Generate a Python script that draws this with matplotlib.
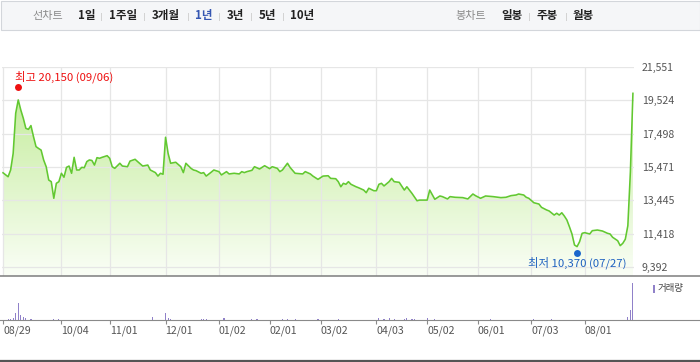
import numpy as np
import matplotlib
matplotlib.use('Agg')
import matplotlib.pyplot as plt
from matplotlib.patches import Rectangle, PathPatch
from matplotlib.lines import Line2D
from matplotlib.colors import LinearSegmentedColormap
import matplotlib.transforms as mtransforms

plt.rcParams['font.family'] = ['Noto Sans CJK KR', 'DejaVu Sans']

# ---------------- data ----------------
# trading-day number (0 = 2022-08-29) and closing price
day_idx = [0, 2, 3, 4, 5, 6, 7, 8, 9, 10, 11, 12, 13, 14, 15, 16, 17, 18, 19, 20,
           21, 22, 23, 24, 25, 26, 27, 28, 29, 30, 31, 32, 33, 34, 35, 36, 37, 38, 39, 41,
           42, 43, 44, 46, 47, 49, 50, 52, 53, 55, 57, 58, 60, 61, 62, 63, 64, 65, 66, 68,
           70, 71, 72, 74, 75, 76, 78, 79, 80, 82, 83, 85, 86, 88, 89, 91, 93, 94, 95, 96,
           98, 99, 101, 103, 105, 106, 108, 109, 110, 112, 113, 115, 118, 119, 121, 122, 124, 126, 128, 129,
           131, 132, 133, 134, 135, 136, 137, 139, 140, 142, 143, 144, 146, 147, 148, 149, 150, 152, 153, 154,
           156, 158, 159, 161, 163, 164, 167, 168, 170, 172, 173, 175, 176, 178, 181, 183, 185, 186, 188, 190,
           193, 196, 198, 200, 202, 203, 205, 206, 207, 209, 211, 212, 214, 215, 217, 218, 219, 220, 221, 222,
           223, 224, 225, 226, 227, 228, 229, 231, 232, 234, 236, 238, 239, 240, 242, 243, 244, 245, 246, 247,
           248]
close = [15120, 14880, 15290, 16300, 18740, 19550, 18940, 18430, 17820, 17760, 17990, 17320, 16710, 16600, 16500, 15900, 15490, 14680, 14580, 13570,
         14480, 14580, 15090, 14850, 15450, 15530, 15090, 16060, 15290, 15290, 15450, 15430, 15800, 15900, 15870, 15590, 16040, 16000, 16060, 16160,
         16000, 15490, 15390, 15700, 15530, 15490, 15830, 15940, 15800, 15530, 15590, 15290, 15130, 14920, 15090, 15030, 17280, 16300, 15700, 15760,
         15490, 15130, 15700, 15390, 15290, 15250, 15090, 15130, 14920, 15160, 15290, 15190, 14990, 15190, 15050, 15090, 15050, 15190, 15130, 15190,
         15270, 15490, 15350, 15550, 15370, 15490, 15390, 15190, 15290, 15700, 15450, 15090, 15050, 15190, 15050, 14920, 14720, 14920, 14940, 14780,
         14760, 14580, 14270, 14480, 14420, 14580, 14420, 14270, 14210, 14070, 13910, 14180, 14030, 14030, 14420, 14480, 14320, 14580, 14780, 14580,
         14540, 14070, 14270, 13870, 13420, 13460, 13460, 14070, 13510, 13710, 13670, 13530, 13670, 13630, 13610, 13530, 13830, 13730, 13570, 13710,
         13670, 13610, 13630, 13730, 13770, 13830, 13770, 13630, 13570, 13300, 13220, 13020, 12860, 12800, 12550, 12660, 12550, 12690, 12490, 12250,
         11840, 11400, 10730, 10630, 10930, 11440, 11480, 11400, 11600, 11640, 11580, 11440, 11400, 11200, 10990, 10690, 10830, 11080, 11900, 15170,
         19950]

vol_idx = [2, 3, 4, 5, 6, 7, 8, 9, 11, 20, 22, 59, 64, 65, 66, 78, 79, 80, 87, 98,
           100, 110, 112, 115, 124, 132, 148, 150, 152, 154, 158, 159, 161, 162, 167, 170, 192, 209, 216, 246,
           247, 248]
volume = [100, 100, 120, 670, 1670, 430, 300, 150, 100, 100, 100, 250, 670, 200, 100, 100, 100, 100, 200, 100,
          100, 100, 100, 100, 100, 100, 150, 100, 150, 100, 100, 150, 100, 100, 150, 100, 100, 100, 100, 270,
          930, 3670]

tick_idx = [0, 23, 42, 64, 85, 105, 125, 147, 167, 187, 208, 229]
tick_lbl = ['08/29', '10/04', '11/01', '12/01', '01/02', '02/01', '03/02',
            '04/03', '05/02', '06/01', '07/03', '08/01']
y_ticks = [9392, 11418, 13445, 15471, 17498, 19524, 21551]

hi_idx, hi_val, hi_date = 6, 20150, '09/06'
lo_idx, lo_val, lo_date = 226, 10370, '07/27'

period_items = ['1일', '1주일', '3개월', '1년', '3년', '5년', '10년']
candle_items = ['일봉', '주봉', '월봉']

# ---------------- figure ----------------
W, H = 700, 362
fig = plt.figure(figsize=(W / 100, H / 100), dpi=100)
fig.patch.set_facecolor('white')


def fx(px):
    return px / W


def fy(py):
    return 1 - py / H


# top toolbar
fig.patches.append(Rectangle((fx(0.5), fy(29.5)), fx(699), 29 / H, transform=fig.transFigure,
                             facecolor='#f5f6f8', edgecolor='#d3d6db', lw=0.8, zorder=0))
ty = fy(15.5)
fig.text(fx(48.3), ty, '선차트', ha='center', va='center', fontsize=8, color='#8a8a8a')
left_x = [86.3, 123.3, 165.8, 203.5, 235.0, 267.2, 302.0]
for lbl, x in zip(period_items, left_x):
    fig.text(fx(x), ty, lbl, ha='center', va='center', fontsize=8.3, fontweight='bold',
             color='#3556b2' if lbl == '1년' else '#222222')
fig.text(fx(471.3), ty, '봉차트', ha='center', va='center', fontsize=8, color='#8a8a8a')
right_x = [511.7, 547.2, 583.3]
for lbl, x in zip(candle_items, right_x):
    fig.text(fx(x), ty, lbl, ha='center', va='center', fontsize=8.3, fontweight='bold', color='#222222')
for sx in [101, 144, 187.7, 219.3, 250.7, 283.3, 529.3, 565.7]:
    fig.add_artist(Line2D([fx(sx), fx(sx)], [fy(12.5), fy(19.5)], transform=fig.transFigure,
                          color='#d2d2d2', lw=0.7))

# ---------------- price panel ----------------
ppd = 2.54  # pixels per trading day
x0 = -1 / ppd
x1 = (634 - 3) / ppd
px_per_val = (y_ticks[-1] - y_ticks[0]) / 200.0
ybot = y_ticks[0] - 9 * px_per_val
ytop = y_ticks[-1]

ax = fig.add_axes([fx(2), fy(276), fx(634) - fx(2), (276 - 67) / H])
ax.set_xlim(x0, x1)
ax.set_ylim(ybot, ytop)
for s in ax.spines.values():
    s.set_visible(False)
ax.set_xticks(tick_idx)
ax.set_yticks(y_ticks)
ax.tick_params(axis='x', length=0, labelbottom=False)
ax.yaxis.tick_right()
ax.tick_params(axis='y', length=0, pad=5.5, labelsize=7.6, labelcolor='#555555')
ax.set_yticklabels([f'{v:,}' for v in y_ticks])
ax.grid(True, color='#e6e6e6', lw=0.9)

cmap = LinearSegmentedColormap.from_list('g', ['#fafef6', '#bdea90'])
grad = np.linspace(1, 0, 256).reshape(-1, 1)
im = ax.imshow(grad, extent=[x0, x1, ybot, ytop], aspect='auto', cmap=cmap,
               origin='upper', zorder=0.2, interpolation='bilinear')
fb = ax.fill_between(day_idx, close, ybot, facecolor='none', edgecolor='none')
clip = PathPatch(fb.get_paths()[0], transform=ax.transData, facecolor='none', edgecolor='none')
ax.add_patch(clip)
im.set_clip_path(clip)

ax.plot(day_idx, close, color='#62c831', lw=1.15, zorder=3, solid_joinstyle='round')

up = mtransforms.offset_copy(ax.transData, fig=fig, x=0, y=3, units='dots')
dn = mtransforms.offset_copy(ax.transData, fig=fig, x=0, y=-2.5, units='dots')
ax.plot([hi_idx], [hi_val], 'o', color='#ee1111', ms=5, mec='none', transform=up, zorder=4)
ax.plot([lo_idx], [lo_val], 'o', color='#1a66cc', ms=5, mec='none', transform=dn, zorder=4)
ax.annotate(f'최고 {hi_val:,} ({hi_date})', xy=(hi_idx, hi_val), xytext=(-2.4, 9.9),
            textcoords='offset points', ha='left', va='center', fontsize=8.2, color='#ee1111',
            annotation_clip=False)
ax.annotate(f'최저 {lo_val:,} ({lo_date})', xy=(lo_idx, lo_val), xytext=(0, -8.6),
            textcoords='offset points', ha='center', va='center', fontsize=8.2, color='#1f62c0',
            annotation_clip=False)

# ---------------- volume panel ----------------
vax = fig.add_axes([fx(2), fy(319.5), fx(634) - fx(2), (319.5 - 277) / H])
vax.set_xlim(x0, x1)
vax.set_ylim(0, max(volume) * 42.5 / 36.7)
for s in vax.spines.values():
    s.set_visible(False)
vax.bar(vol_idx, volume, width=0.45, color='#9081c9', linewidth=0)
vax.set_yticks([])
vax.set_xticks(tick_idx)
vax.set_xticklabels(tick_lbl)
vax.tick_params(axis='x', length=3, width=0.8, color='#8a8a8a', direction='out',
                labelsize=7.6, labelcolor='#555555', pad=1.5)
for t in vax.get_xticklabels():
    t.set_ha('left')

fig.patches.append(Rectangle((fx(652.5), fy(293)), 2.8 / W, 8 / H, transform=fig.transFigure,
                             facecolor='#9081c9', edgecolor='none'))
fig.text(fx(657.5), fy(289), '거래량', ha='left', va='center', fontsize=6.8, color='#444444')

# separator lines
fig.add_artist(Line2D([0, 1], [fy(276), fy(276)], transform=fig.transFigure, color='#7d7d7d', lw=1.1))
fig.add_artist(Line2D([0, 1], [fy(319.5), fy(319.5)], transform=fig.transFigure, color='#8a8a8a', lw=0.8))
fig.add_artist(Line2D([0, 1], [fy(360.5), fy(360.5)], transform=fig.transFigure, color='#555555', lw=1.6))

fig.savefig('out.png', dpi=100)
